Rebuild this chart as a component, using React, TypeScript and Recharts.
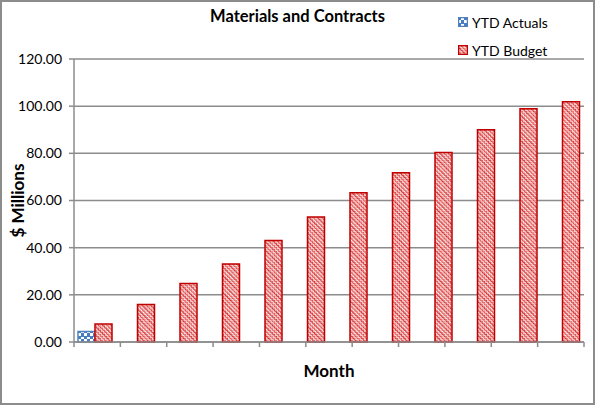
import { BarChart, Bar, XAxis, YAxis, CartesianGrid, Label } from "recharts";

const months = ["Jul", "Aug", "Sep", "Oct", "Nov", "Dec", "Jan", "Feb", "Mar", "Apr", "May", "Jun"];
const ytdActuals = [4.4, null, null, null, null, null, null, null, null, null, null, null];
const ytdBudget = [7.6, 15.9, 24.8, 33.1, 43.0, 53.0, 63.3, 71.8, 80.4, 90.0, 98.9, 101.9];
const yTicks = [0, 20, 40, 60, 80, 100, 120];
const edgeTicks = [0, 1, 2, 3, 4, 5, 6, 7, 8, 9, 10, 11, 12];

const data = months.map((m, i) => ({
    month: m,
    actual: ytdActuals[i],
    budget: ytdBudget[i],
}));

const font = "Lato, 'Liberation Sans', sans-serif";
const grey = "#8c8c8c";

function LegendBox() {
    const items = [
        { label: "YTD Actuals", fill: "url(#actualsPat)", stroke: "#4f81bd" },
        { label: "YTD Budget", fill: "url(#budgetPat)", stroke: "#c00000" },
    ];
    return (
        <div style={{ position: "absolute", left: 458, top: 8, fontFamily: font, fontSize: 14, color: "#000" }}>
            {items.map((it) => (
                <div key={it.label} style={{ display: "flex", alignItems: "center", height: 28 }}>
                    <svg width={10} height={10} style={{ marginRight: 4 }}>
                        <rect x={0.5} y={0.5} width={9} height={9} fill={it.fill} stroke={it.stroke} strokeWidth={1.5} />
                    </svg>
                    <span>{it.label}</span>
                </div>
            ))}
        </div>
    );
}

export default function App() {
    return (
        <div style={{ position: "absolute", left: 0, top: 0, width: 595, height: 405, background: "#fff" }}>
            <div
                style={{
                    position: "absolute",
                    left: 0,
                    top: 6,
                    width: 595,
                    textAlign: "center",
                    fontFamily: font,
                    fontWeight: 700,
                    fontSize: 16.5,
                    color: "#000",
                }}
            >
                Materials and Contracts
            </div>
            <BarChart
                width={595}
                height={405}
                data={data}
                margin={{ top: 59, right: 11, left: 0, bottom: 23 }}
                barCategoryGap={4}
                barGap={0}
            >
                <defs>
                    {/* weave-like red hatch for the budget bars */}
                    <pattern id="budgetPat" width={6} height={6} patternUnits="userSpaceOnUse" patternTransform="rotate(45)">
                        <rect width={6} height={6} fill="#fff" />
                        <path d="M0 2 L1.5 0.5 L3 2 L4.5 0.5 L6 2" fill="none" stroke="#d42a2a" strokeWidth={1.2} />
                        <path d="M0 5 L1.5 3.5 L3 5 L4.5 3.5 L6 5" fill="none" stroke="#e04848" strokeWidth={1.2} />
                    </pattern>
                    <pattern id="actualsPat" width={6} height={6} patternUnits="userSpaceOnUse">
                        <rect width={6} height={6} fill="#fff" />
                        <rect width={3} height={3} fill="#4a7dbf" />
                        <rect x={3} y={3} width={3} height={3} fill="#4a7dbf" />
                        <rect x={3} y={0} width={3} height={1} fill="#4a7dbf" />
                    </pattern>
                </defs>
                <CartesianGrid vertical={false} stroke={grey} strokeWidth={1.5} />
                <XAxis dataKey="month" hide height={0} />
                <XAxis
                    xAxisId="edge"
                    type="number"
                    domain={[0, 12]}
                    ticks={edgeTicks}
                    allowDataOverflow
                    height={40}
                    stroke={grey}
                    strokeWidth={1.5}
                    tickSize={5}
                    tickFormatter={() => ""}
                >
                    <Label
                        value="Month"
                        position="insideBottom"
                        offset={5}
                        style={{ fontFamily: font, fontWeight: 700, fontSize: 17, fill: "#000" }}
                    />
                </XAxis>
                <YAxis
                    width={74}
                    domain={[0, 120]}
                    ticks={yTicks}
                    tickFormatter={(v: number) => v.toFixed(2)}
                    stroke={grey}
                    strokeWidth={1.5}
                    tickSize={5}
                    tickMargin={7}
                    tick={{ fontFamily: font, fontSize: 14, fill: "#000" }}
                >
                    <Label
                        value="$ Millions"
                        angle={-90}
                        position="insideLeft"
                        offset={18}
                        style={{ textAnchor: "middle", fontFamily: font, fontWeight: 700, fontSize: 17, fill: "#000" }}
                    />
                </YAxis>
                <Bar dataKey="actual" name="YTD Actuals" fill="url(#actualsPat)" stroke="#4f81bd" strokeWidth={1.5} isAnimationActive={false} />
                <Bar dataKey="budget" name="YTD Budget" fill="url(#budgetPat)" stroke="#c00000" strokeWidth={1.5} isAnimationActive={false} />
            </BarChart>
            <LegendBox />
            <div
                style={{
                    position: "absolute",
                    left: 0,
                    top: 0,
                    width: 595,
                    height: 405,
                    boxSizing: "border-box",
                    border: `2px solid ${grey}`,
                    pointerEvents: "none",
                }}
            />
        </div>
    );
}
